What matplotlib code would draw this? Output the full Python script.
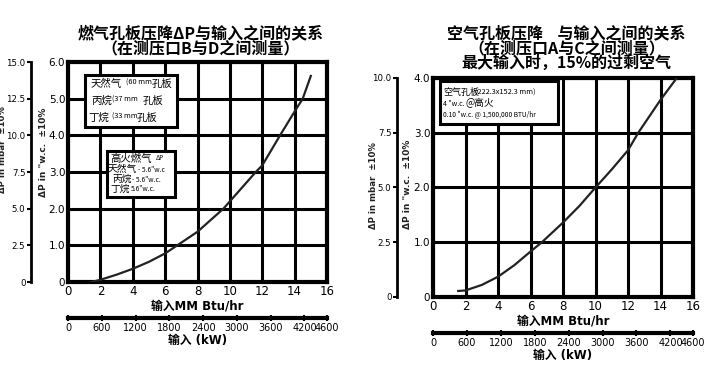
import numpy as np
import matplotlib
matplotlib.use('Agg')
import matplotlib.pyplot as plt
from matplotlib.patches import Rectangle

CJK = ['Noto Sans CJK SC', 'DejaVu Sans']
plt.rcParams['font.family'] = ['DejaVu Sans', 'Noto Sans CJK SC']

W, H = 711, 367

# gas orifice curve (MM Btu/hr vs "w.c.)
gas_x = [1.45, 2.0, 3.0, 4.0, 5.0, 6.0, 6.75, 8.0, 9.6, 10.0, 11.6, 12.0, 13.1, 14.0, 14.5, 15.0]
gas_y = [0.0, 0.06, 0.2, 0.36, 0.55, 0.78, 1.0, 1.37, 2.0, 2.2, 3.0, 3.18, 4.0, 4.65, 5.0, 5.62]
# air orifice curve
air_x = [1.55, 2.0, 3.0, 4.0, 5.0, 6.0, 6.7, 8.0, 9.0, 10.0, 11.0, 12.0, 12.63, 14.0, 15.0]
air_y = [0.11, 0.12, 0.22, 0.37, 0.58, 0.83, 1.0, 1.36, 1.66, 2.0, 2.33, 2.68, 3.0, 3.6, 4.0]

btu_ticks = [0, 2, 4, 6, 8, 10, 12, 14, 16]
kw_ticks = [0, 600, 1200, 1800, 2400, 3000, 3600, 4200, 4600]
gas_wc_ticks = [0, 1, 2, 3, 4, 5, 6]
gas_wc_labels = ['0', '1.0', '2.0', '3.0', '4.0', '5.0', '6.0']
gas_mbar_ticks = [0, 2.5, 5, 7.5, 10, 12.5, 15]
gas_mbar_labels = ['0', '2.5', '5.0', '7.5', '10.0', '12.5', '15.0']
air_wc_ticks = [0, 1, 2, 3, 4]
air_wc_labels = ['0', '1.0', '2.0', '3.0', '4.0']
air_mbar_ticks = [0, 2.5, 5, 7.5, 10]
air_mbar_labels = ['0', '2.5', '5.0', '7.5', '10.0']

gas_title = ['燃气孔板压降ΔP与输入之间的关系', '（在测压口B与D之间测量）']
air_title = ['空气孔板压降    与输入之间的关系', '（在测压口A与C之间测量）', '最大输入时，15%的过剩空气']


def px_axes(fig, x0, y0, x1, y1):
    # pixel box (top-left origin) -> figure axes
    return fig.add_axes([x0 / W, 1 - y1 / H, (x1 - x0) / W, (y1 - y0) / H])


def ptext(x, y, s, size, **kw):
    kw.setdefault('family', CJK)
    fig.text(x / W, 1 - y / H, s, fontsize=size, va='center', **kw)


def draw_panel(fig, box, xs, ys, ymax, wc_ticks, wc_labels, mbar_ticks, mbar_labels,
               mbar_max, mbar_x, kw_y, titles, title_y, lab_pos):
    x0, y0, x1, y1 = box
    ax = px_axes(fig, x0, y0, x1, y1)
    ax.set_xlim(0, 16)
    ax.set_ylim(0, ymax)
    ax.set_xticks(btu_ticks)
    ax.set_yticks(wc_ticks)
    ax.set_xticklabels([str(t) for t in btu_ticks], fontsize=8.5)
    ax.set_yticklabels(wc_labels, fontsize=7.5)
    ax.tick_params(length=0, pad=2)
    ax.grid(True, color='black', linewidth=2.2)
    for s in ax.spines.values():
        s.set_linewidth(3)
    ax.plot(xs, ys, color='#222222', linewidth=1.6, zorder=5)
    ax.set_xlabel('输入MM Btu/hr', fontsize=8.5, fontweight='bold', labelpad=1)

    # outer mbar scale
    am = px_axes(fig, mbar_x, y0, mbar_x + 1, y1)
    am.set_ylim(0, mbar_max)
    am.set_xticks([])
    am.set_yticks(mbar_ticks)
    am.set_yticklabels(mbar_labels)
    am.tick_params(axis='y', length=3, width=1.5, labelsize=6.2, pad=1)
    for k in ['top', 'right', 'bottom']:
        am.spines[k].set_visible(False)
    am.spines['left'].set_linewidth(2)
    am.patch.set_visible(False)

    # rotated axis labels
    (mx, my), (wx, wy) = lab_pos
    fig.text(mx / W, 1 - my / H, 'ΔP in mbar  ±10%', fontsize=6.2,
             fontweight='bold', rotation=90, ha='center', va='center', color='#222222')
    fig.text(wx / W, 1 - wy / H, 'ΔP in "w.c.  ±10%', fontsize=6.5,
             fontweight='bold', rotation=90, ha='center', va='center', color='#222222')

    # kW scale
    ak = px_axes(fig, x0, kw_y, x1, kw_y + 1)
    ak.set_xlim(0, 4600)
    ak.set_xticks(kw_ticks)
    ak.set_xticklabels([str(t) for t in kw_ticks])
    ak.set_yticks([])
    for k in ['top', 'left', 'right']:
        ak.spines[k].set_visible(False)
    ak.spines['bottom'].set_linewidth(3)
    ak.tick_params(axis='x', direction='inout', length=5, width=1.5, labelsize=7, pad=1)
    ak.patch.set_visible(False)
    ak.set_xlabel('输入 (kW)', fontsize=8.5, fontweight='bold', labelpad=1)

    cx = (x0 + x1) / 2 / W + 0.005
    for i, t in enumerate(titles):
        fig.text(cx, 1 - (title_y + 15 * i) / H, t, family=CJK, fontsize=11.5,
                 fontweight='bold', ha='center', va='center')
    return ax


fig = plt.figure(figsize=(W / 100, H / 100), dpi=100)

axg = draw_panel(fig, (68, 62, 327, 282), gas_x, gas_y, 6, gas_wc_ticks, gas_wc_labels,
                 gas_mbar_ticks, gas_mbar_labels, 15, 31, 317, gas_title, 33,
                 [(3, 150), (44, 152)])
axa = draw_panel(fig, (433, 78, 693, 297), air_x, air_y, 4, air_wc_ticks, air_wc_labels,
                 air_mbar_ticks, air_mbar_labels, 10, 397, 332, air_title, 33,
                 [(373, 186), (408, 184)])


def box(x0, y0, x1, y1):
    fig.patches.append(Rectangle((x0 / W, 1 - y1 / H), (x1 - x0) / W, (y1 - y0) / H,
                                 transform=fig.transFigure, facecolor='white',
                                 edgecolor='black', linewidth=2.2, zorder=10))


# gas legend boxes
box(85, 75, 177, 127)
for (x, y, s, sz) in [(91, 84, '天然气', 7.5), (126, 83, '(60 mm', 5.3), (152, 84, '孔板', 7.5),
                      (91, 101, '丙烷', 7.5), (112, 100, '(37 mm', 5.3), (143, 101, '孔板', 7.5),
                      (88, 118, '丁烷', 7.5), (112, 117, '(33 mm', 5.3), (137, 118, '孔板', 7.5)]:
    ptext(x, y, s, sz, zorder=11)

box(107, 151, 175, 197)
for (x, y, s, sz) in [(110, 159, '高火燃气', 7.5), (156, 158, 'ΔP', 4.5),
                      (108, 169, '天然气', 7), (138, 170, '- 5.6"w.c', 4.8),
                      (112, 179, '丙烷', 7), (132, 180, '- 5.6"w.c.', 4.8),
                      (110, 189, '丁烷', 7), (131, 189, '5.6"w.c.', 4.8)]:
    ptext(x, y, s, sz, zorder=11)

# air legend box
box(440, 81, 558, 124)
for (x, y, s, sz) in [(443, 92, '空气孔板', 6.5), (475, 93, '(222.3x152.3 mm)', 5.3),
                      (443, 104, '4 "w.c.', 5), (466, 103, '@高火', 7),
                      (443, 114, '0.10 "w.c. @ 1,500,000 BTU/hr', 4.8)]:
    ptext(x, y, s, sz, zorder=11)

fig.savefig('out.png', dpi=100)
